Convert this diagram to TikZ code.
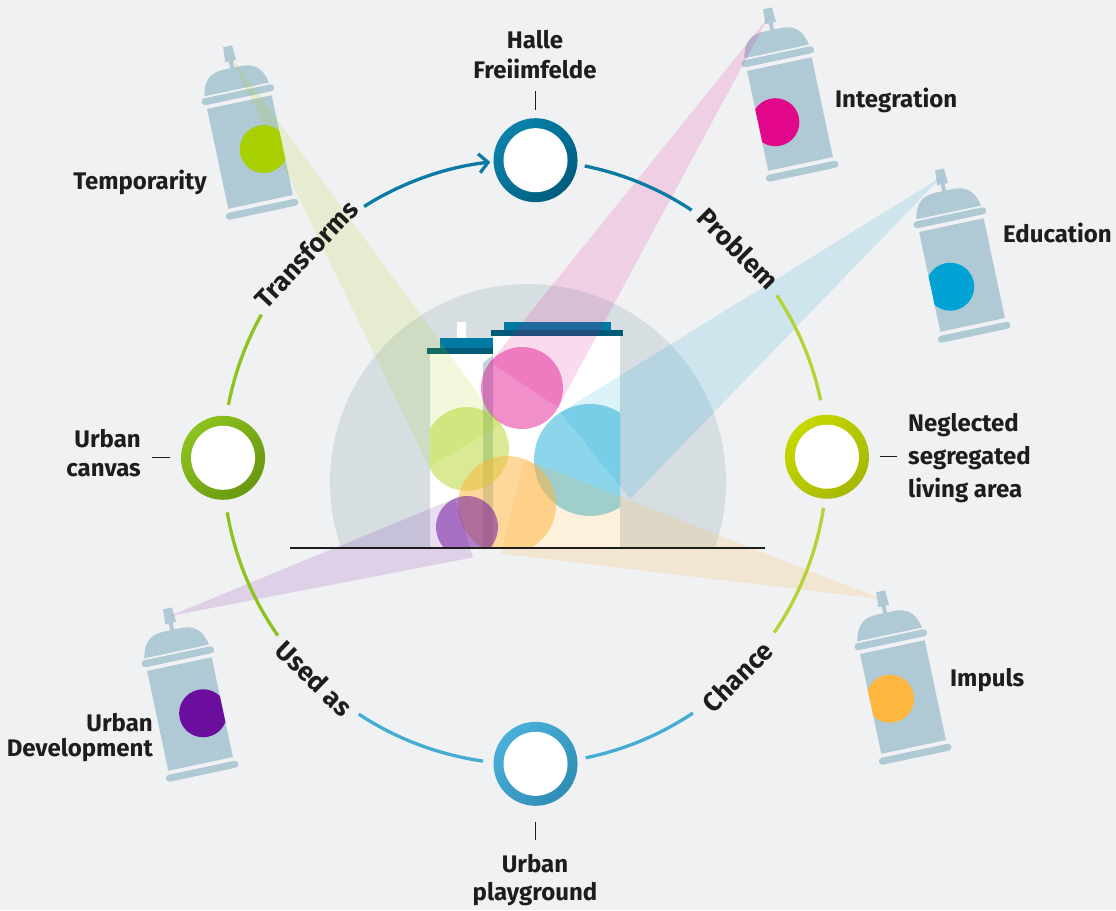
\documentclass[tikz,border=0pt]{standalone}
\usepackage{fontspec}
\setmainfont{Fira Sans}
\usetikzlibrary{calc,arrows.meta}

\definecolor{bgcol}{HTML}{F0F1F3}
\definecolor{ink}{HTML}{1D1D1B}
\definecolor{canblue}{HTML}{AFC9D5}
\definecolor{domecol}{HTML}{D6DEE2}
\definecolor{roofdark}{HTML}{005A78}
\definecolor{rooflight}{HTML}{0079A3}
\definecolor{stripcol}{HTML}{7FA9B9}
\definecolor{paintgreen}{HTML}{A8CF00}
\definecolor{paintpink}{HTML}{E2078A}
\definecolor{paintblue}{HTML}{00A3D4}
\definecolor{paintorange}{HTML}{FDB63E}
\definecolor{paintpurple}{HTML}{6B0E9E}
\definecolor{ringteal}{HTML}{0B7BA3}
\definecolor{ringlime}{HTML}{B5D334}
\definecolor{ringsky}{HTML}{45ACD4}
\definecolor{ringgreen}{HTML}{8DC21F}
\definecolor{hubtealA}{HTML}{0A82AB}
\definecolor{hubtealB}{HTML}{005D7E}
\definecolor{hublimeA}{HTML}{C6D800}
\definecolor{hublimeB}{HTML}{A6B800}
\definecolor{hubskyA}{HTML}{4AB0D8}
\definecolor{hubskyB}{HTML}{2F8DB5}
\definecolor{hubgreenA}{HTML}{8DC21F}
\definecolor{hubgreenB}{HTML}{68980F}

\tikzset{
  txt/.style={inner sep=0, text=ink, font=\fontsize{24}{30}\selectfont\bfseries},
  arctxt/.style={txt, font=\fontsize{26.5}{30}\selectfont\bfseries},
  ringline/.style={line width=3.3pt, line cap=butt},
  tickline/.style={draw=ink, line width=1pt},
  hub/.style={circle, minimum size=84pt, inner sep=0, outer sep=0,
    path picture={\fill[white] (path picture bounding box.center) circle[radius=32pt];}},
  hubshade/.style 2 args={top color=#1, bottom color=#2, shading angle=45},
  blob/.style={circle, inner sep=0, outer sep=0},
  beam/.style={fill=#1, fill opacity=0.14},
  canpart/.style={fill=canblue},
}

% spray can: name of nozzle coordinate, position, paint colour, paint dot offset
\newcommand\spraycan[6]{%
  \begin{scope}[shift={(#2,#3)}, rotate=12]
    \fill[canpart] (-4.5,-108) -- (4.5,-108) -- (5.5,-93) -- (-5.5,-93) -- cycle;
    \fill[canpart] (-2,-94) rectangle (2,-85);
    \fill[canpart] (-33,-64) .. controls (-30,-80) and (-22,-86) .. (-8,-86)
      -- (8,-86) .. controls (22,-86) and (30,-80) .. (33,-64) -- cycle;
    \fill[canpart, rounded corners=3.5pt] (-37,-62) rectangle (37,-55);
    \fill[canpart] (-33,-51) rectangle (33,51);
    \fill[canpart, rounded corners=3.5pt] (-37,55) rectangle (37,62);
    \begin{scope}
      \clip (-33,-51) rectangle (33,51);
      \fill[#4] (#5,#6) circle[radius=24];
    \end{scope}
    \coordinate (#1) at (0,-100);
  \end{scope}}

% ring segment around the centre C
\newcommand\ringarc[4]{%
  \draw[ringline, draw=#1, #4] ($(C)+(#2:302)$) arc[start angle=#2, end angle=#3, radius=302];}

\begin{document}
\begin{tikzpicture}[x=1pt, y=-1pt]
\fill[bgcol] (0,0) rectangle (1116,910);
\useasboundingbox (0,0) rectangle (1116,910);

% dome behind the houses
\begin{scope}
  \clip (300,250) rectangle (760,548);
  \fill[domecol] (528,482) circle[radius=198];
\end{scope}

% houses
\fill[white] (430,354) rectangle (493,548);
\fill[white] (493,336) rectangle (620,548);
\fill[white] (457,322) rectangle (466,339);
\fill[rooflight] (440,338) rectangle (493,348);
\fill[roofdark] (427,348) rectangle (493,354);
\fill[rooflight] (504,322) rectangle (611,330);
\fill[roofdark] (491,330) rectangle (623,336);
\fill[stripcol, fill opacity=.5] (483,363) -- (493,355) -- (493,548) -- (483,548) -- cycle;

% spray cans
\spraycan{tipT}{250}{152}{paintgreen}{14}{0}
\spraycan{tipI}{790}{114}{paintpink}{-16}{5}
\spraycan{tipE}{962}{275}{paintblue}{-14}{9}
\spraycan{tipM}{903}{697}{paintorange}{-13}{-1}
\spraycan{tipU}{190}{714}{paintpurple}{13}{2}

% paint on the houses
\begin{scope}
  \clip (430,354) -- (493,354) -- (493,336) -- (620,336) -- (620,548) -- (430,548) -- cycle;
  \node[blob, minimum size=84pt, fill=paintgreen, fill opacity=.42] (blobG) at (467,449) {};
  \node[blob, minimum size=82pt, fill=paintpink, fill opacity=.45] (blobP) at (522,388) {};
  \node[blob, minimum size=112pt, fill=paintblue, fill opacity=.45] (blobB) at (590,460) {};
  \node[blob, minimum size=98pt, fill=paintorange, fill opacity=.52] (blobO) at (507,505) {};
  \node[blob, minimum size=62pt, fill=paintpurple, fill opacity=.52] (blobV) at (467,527) {};
\end{scope}

% spray beams
\fill[beam=paintgreen] (tipT) -- (tangent cs:node=blobG,point={(tipT)},solution=1)
  -- (tangent cs:node=blobG,point={(tipT)},solution=2) -- cycle;
\fill[beam=paintpink] (tipI) -- (tangent cs:node=blobP,point={(tipI)},solution=1)
  -- (tangent cs:node=blobP,point={(tipI)},solution=2) -- cycle;
\fill[beam=paintblue] (tipE) -- (tangent cs:node=blobB,point={(tipE)},solution=1)
  -- (tangent cs:node=blobB,point={(tipE)},solution=2) -- cycle;
\fill[beam=paintorange, fill opacity=.18] (tipM) -- (tangent cs:node=blobO,point={(tipM)},solution=1)
  -- (tangent cs:node=blobO,point={(tipM)},solution=2) -- cycle;
\fill[beam=paintpurple] (tipU) -- (tangent cs:node=blobV,point={(tipU)},solution=1)
  -- (tangent cs:node=blobV,point={(tipU)},solution=2) -- cycle;

% ground
\coordinate (g1) at (290,548);
\coordinate (g2) at (765,548);
\draw[ink, line width=1.3pt] (g1) -- (g2);

% ring
\coordinate (C) at (525,462);
\ringarc{ringgreen}{190.9}{209.2}{}
\ringarc{ringteal}{237.8}{263.4}{-{Straight Barb[length=9pt,width=19pt]}}
\ringarc{ringteal}{281.4}{303.5}{}
\ringarc{ringlime}{326.5}{348.2}{}
\ringarc{ringlime}{8.7}{34.4}{}
\ringarc{ringsky}{56.2}{78.4}{}
\ringarc{ringsky}{98}{123.4}{}
\ringarc{ringgreen}{144.9}{170.4}{}

\node[arctxt, rotate=46.5] (lTransforms) at ($(C)+(223.5:302)$) {Transforms};
\node[arctxt, rotate=-45] (lProblem) at ($(C)+(315:302)$) {Problem};
\node[arctxt, rotate=44.7] (lChance) at ($(C)+(45.3:302)$) {Chance};
\node[arctxt, rotate=-44.2] (lUsed) at ($(C)+(134.2:302)$) {Used as};

\node[hub, hubshade={hubtealA}{hubtealB}] (nTop) at ($(C)+(-88:302)$) {};
\node[hub, hubshade={hublimeA}{hublimeB}] (nRight) at ($(C)+(-1:302)$) {};
\node[hub, hubshade={hubskyA}{hubskyB}] (nBottom) at ($(C)+(88:302)$) {};
\node[hub, hubshade={hubgreenA}{hubgreenB}] (nLeft) at ($(C)+(180.8:302)$) {};

% ticks and node captions
\draw[tickline] ($(nTop.north)+(0,-8)$) -- ++(0,-19);
\draw[tickline] ($(nRight.east)+(11,0)$) -- ++(17,0);
\draw[tickline] ($(nBottom.south)+(0,16)$) -- ++(0,18);
\draw[tickline] ($(nLeft.west)+(-11,0)$) -- ++(-18,0);

\node[txt, align=center] (tTop) at (535,55) {Halle\\Freiimfelde};
\node[txt, align=left, anchor=west, font=\fontsize{24}{33}\selectfont\bfseries] (tRight) at (908,458) {Neglected\\segregated\\living area};
\node[txt, align=center, font=\fontsize{24}{28}\selectfont\bfseries] (tBottom) at (535,880) {Urban\\playground};
\node[txt, align=right, anchor=east, font=\fontsize{24}{29}\selectfont\bfseries] (tLeft) at (141,453) {Urban\\canvas};

% can captions
\node[txt, anchor=base east] (cTemp) at (207,189) {Temporarity};
\node[txt, anchor=base west] (cInt) at (835,107) {Integration};
\node[txt, anchor=base west] (cEdu) at (1003,242) {Education};
\node[txt, anchor=base west] (cImp) at (950,686) {Impuls};
\node[txt, align=right, anchor=east, font=\fontsize{24}{25}\selectfont\bfseries] (cDev) at (153,738) {Urban\\Development};
\end{tikzpicture}
\end{document}
